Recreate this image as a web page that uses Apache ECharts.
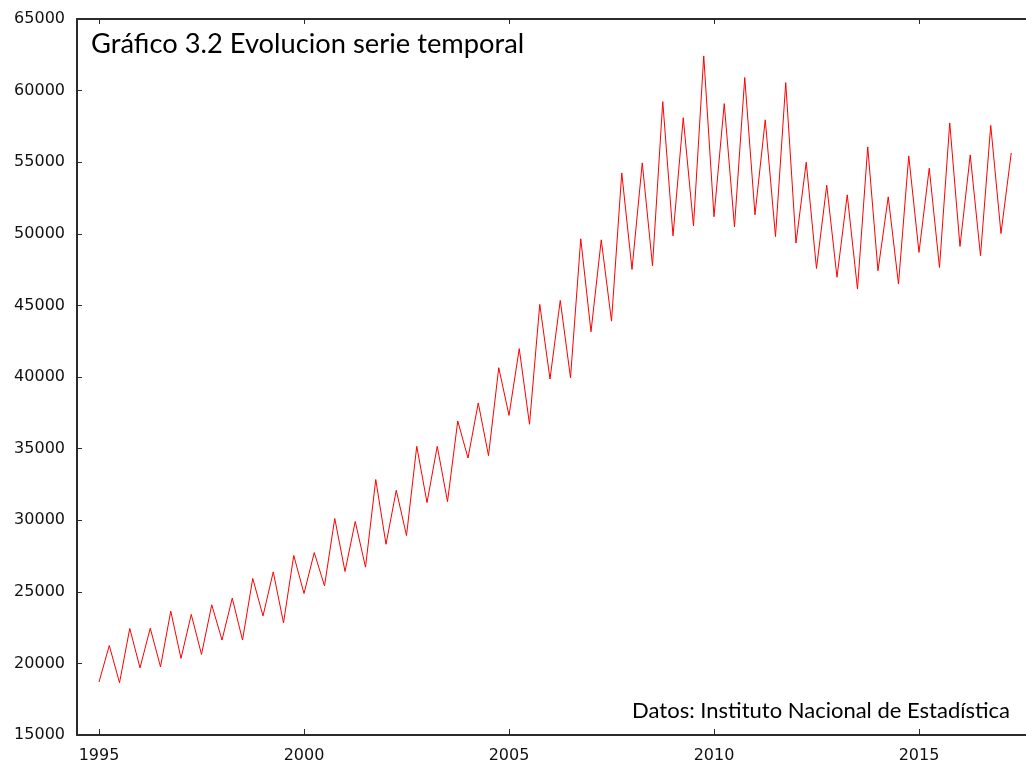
<!DOCTYPE html>
<html>
<head>
<meta charset="utf-8">
<title>Gráfico 3.2 Evolucion serie temporal</title>
<script src="https://cdn.jsdelivr.net/npm/echarts@6/dist/echarts.min.js"></script>
<style>
  html, body { margin: 0; padding: 0; background: #fff; }
  #chart { width: 1026px; height: 766px; }
</style>
</head>
<body>
<div id="chart"></div>
<script>
// Quarterly series, first quarter of 1995 to second quarter of 2017
const startYear = 1995;
const values = [
  18700, 21250, 18650, 22440, 19690, 22460, 19760, 23650, 20350, 23420,
  20630, 24090, 21630, 24560, 21630, 25930, 23320, 26390, 22830, 27540,
  24880, 27740, 25410, 30120, 26420, 29910, 26720, 32840, 28320, 32090,
  28930, 35160, 31230, 35160, 31300, 36930, 34340, 38190, 34510, 40650,
  37320, 41980, 36700, 45070, 39860, 45350, 39950, 49650, 43160, 49580,
  43900, 54250, 47510, 54950, 47770, 59230, 49860, 58100, 50560, 62420,
  51190, 59090, 50490, 60910, 51330, 57960, 49810, 60560, 49350, 55000,
  47580, 53390, 46970, 52720, 46140, 56070, 47420, 52580, 46490, 55440,
  48700, 54580, 47650, 57740, 49120, 55510, 48470, 57570, 50020, 55650
];
const yearTicks = [1995, 2000, 2005, 2010, 2015];
const titleText = 'Gráfico 3.2 Evolucion serie temporal';
const sourceText = 'Datos: Instituto Nacional de Estadística';

// each observation sits at year + quarter/4
const points = values.map((v, i) => [startYear + Math.floor(i / 4) + (i % 4) / 4, v]);

const axisColor = '#2b2b2b';
const labelFont = '"DejaVu Sans", Verdana, sans-serif';
const textFont = 'Lato, "Open Sans", sans-serif';

const chart = echarts.init(document.getElementById('chart'), null, { renderer: 'canvas' });

const xMin = 1994.463, xMax = 2017.61;

chart.setOption({
  animation: false,
  backgroundColor: '#ffffff',
  grid: { left: 77, right: 0, top: 19, bottom: 31, containLabel: false },
  graphic: [
    {
      type: 'text', left: 91, top: 31,
      style: { text: titleText, font: '27.3px ' + textFont, fill: '#000' }
    },
    {
      type: 'text', right: 16, top: 700,
      style: { text: sourceText, font: '22px ' + textFont, fill: '#000' }
    }
  ],
  xAxis: [
    {
      type: 'value', position: 'bottom', min: xMin, max: xMax,
      axisLine: { show: true, lineStyle: { color: axisColor, width: 2 } },
      axisTick: { show: true, inside: true, length: 6, customValues: yearTicks,
                  lineStyle: { color: axisColor, width: 1 } },
      axisLabel: { customValues: yearTicks, margin: 13, color: '#111',
                   fontFamily: labelFont, fontSize: 16, formatter: v => String(v) },
      splitLine: { show: false }
    },
    {
      type: 'value', position: 'top', min: xMin, max: xMax,
      axisLine: { show: true, lineStyle: { color: axisColor, width: 2 } },
      axisTick: { show: true, inside: true, length: 5, customValues: yearTicks,
                  lineStyle: { color: axisColor, width: 1 } },
      axisLabel: { show: false },
      splitLine: { show: false }
    }
  ],
  yAxis: {
    type: 'value', min: 15000, max: 65000, interval: 5000,
    axisLine: { show: true, lineStyle: { color: axisColor, width: 2 } },
    axisTick: { show: true, inside: true, length: 5, lineStyle: { color: axisColor, width: 1 } },
    axisLabel: { margin: 12, color: '#111', fontFamily: labelFont, fontSize: 16,
                 formatter: v => String(v) },
    splitLine: { show: false }
  },
  series: [{
    type: 'line',
    xAxisIndex: 0,
    data: points,
    showSymbol: false,
    lineStyle: { color: '#ff0000', width: 1 },
    itemStyle: { color: '#ff0000' }
  }]
});
</script>
</body>
</html>
